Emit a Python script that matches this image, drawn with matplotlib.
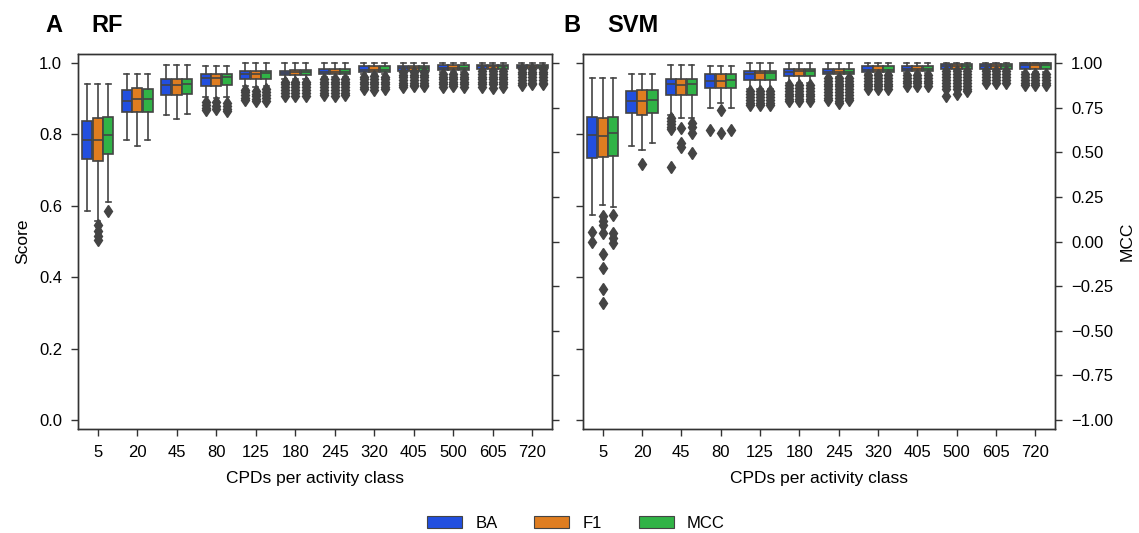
import matplotlib
matplotlib.use('Agg')
import matplotlib.pyplot as plt
import numpy as np
import seaborn as sns
from matplotlib.patches import Patch
from matplotlib.ticker import FormatStrFormatter, FuncFormatter

plt.rcParams['font.family'] = ['Liberation Sans', 'DejaVu Sans']

cpds = ['5', '20', '45', '80', '125', '180', '245', '320', '405', '500', '605', '720']
metrics = ['BA', 'F1', 'MCC']

# ---------------- RF ----------------
rf_med = {
    'BA':  [0.784, 0.894, 0.939, 0.957, 0.969, 0.972, 0.974, 0.980, 0.985, 0.987, 0.990, 0.992],
    'F1':  [0.783, 0.898, 0.939, 0.959, 0.969, 0.975, 0.974, 0.980, 0.985, 0.987, 0.990, 0.992],
    'MCC': [0.797, 0.898, 0.940, 0.960, 0.971, 0.975, 0.974, 0.980, 0.985, 0.987, 0.990, 0.992],
}
rf_q1 = {
    'BA':  [0.730, 0.864, 0.910, 0.936, 0.954, 0.965, 0.969, 0.974, 0.978, 0.980, 0.983, 0.986],
    'F1':  [0.725, 0.862, 0.910, 0.936, 0.954, 0.965, 0.969, 0.974, 0.978, 0.980, 0.983, 0.986],
    'MCC': [0.746, 0.864, 0.912, 0.938, 0.955, 0.965, 0.969, 0.974, 0.978, 0.980, 0.983, 0.986],
}
rf_q3 = {
    'BA':  [0.838, 0.923, 0.954, 0.968, 0.976, 0.978, 0.983, 0.992, 0.992, 0.994, 0.994, 0.995],
    'F1':  [0.845, 0.929, 0.955, 0.968, 0.976, 0.980, 0.983, 0.992, 0.992, 0.994, 0.994, 0.995],
    'MCC': [0.850, 0.928, 0.955, 0.968, 0.977, 0.980, 0.983, 0.992, 0.992, 0.994, 0.994, 0.995],
}
rf_lo = {
    'BA':  [0.585, 0.784, 0.854, 0.905, 0.935, 0.955, 0.962, 0.968, 0.977, 0.975, 0.981, 0.985],
    'F1':  [0.556, 0.768, 0.843, 0.903, 0.932, 0.955, 0.962, 0.968, 0.977, 0.975, 0.981, 0.985],
    'MCC': [0.612, 0.785, 0.858, 0.905, 0.935, 0.955, 0.962, 0.968, 0.977, 0.975, 0.981, 0.985],
}
rf_hi = {
    'BA':  [0.940, 0.969, 0.994, 0.990, 1.0, 1.0, 1.0, 1.0, 1.0, 1.0, 1.0, 1.0],
    'F1':  [0.940, 0.969, 0.994, 0.990, 1.0, 1.0, 1.0, 1.0, 1.0, 1.0, 1.0, 1.0],
    'MCC': [0.940, 0.969, 0.994, 0.990, 1.0, 1.0, 1.0, 1.0, 1.0, 1.0, 1.0, 1.0],
}
rf_fliers = {
    'BA': [[], [], [], [0.890, 0.882, 0.875, 0.868],
           [0.925, 0.918, 0.910, 0.902, 0.895],
           [0.948, 0.940, 0.932, 0.924, 0.916, 0.908],
           [0.955, 0.948, 0.940, 0.932, 0.924, 0.916, 0.910],
           [0.962, 0.955, 0.948, 0.940, 0.932, 0.926],
           [0.974, 0.967, 0.960, 0.952, 0.945, 0.938, 0.932],
           [0.970, 0.962, 0.955, 0.948, 0.940, 0.932],
           [0.977, 0.970, 0.962, 0.955, 0.947, 0.940, 0.932],
           [0.982, 0.975, 0.968, 0.960, 0.952, 0.945, 0.938]],
    'F1': [[0.545, 0.530, 0.515, 0.505], [], [], [0.890, 0.880, 0.872],
           [0.922, 0.914, 0.906, 0.898, 0.892],
           [0.948, 0.940, 0.932, 0.924, 0.916, 0.906],
           [0.955, 0.948, 0.940, 0.932, 0.924, 0.916, 0.908],
           [0.964, 0.956, 0.948, 0.940, 0.932, 0.924],
           [0.974, 0.967, 0.960, 0.952, 0.945, 0.938, 0.934],
           [0.970, 0.962, 0.955, 0.948, 0.940, 0.934],
           [0.977, 0.970, 0.962, 0.955, 0.947, 0.940, 0.930],
           [0.982, 0.975, 0.968, 0.960, 0.952, 0.945, 0.940]],
    'MCC': [[0.585], [], [], [0.888, 0.880, 0.872, 0.866],
            [0.926, 0.918, 0.910, 0.902, 0.894],
            [0.948, 0.940, 0.932, 0.924, 0.916, 0.908],
            [0.955, 0.948, 0.940, 0.932, 0.924, 0.916, 0.910],
            [0.962, 0.955, 0.948, 0.940, 0.932, 0.926],
            [0.974, 0.967, 0.960, 0.952, 0.945, 0.938, 0.934],
            [0.970, 0.962, 0.955, 0.948, 0.940, 0.932],
            [0.977, 0.970, 0.962, 0.955, 0.947, 0.940, 0.932],
            [0.982, 0.975, 0.968, 0.960, 0.952, 0.945, 0.940]],
}

# ---------------- SVM ----------------
svm_med = {
    'BA':  [0.798, 0.894, 0.940, 0.950, 0.969, 0.975, 0.974, 0.980, 0.983, 0.992, 0.990, 0.995],
    'F1':  [0.796, 0.892, 0.938, 0.950, 0.973, 0.978, 0.974, 0.980, 0.983, 0.992, 0.990, 0.995],
    'MCC': [0.805, 0.895, 0.941, 0.951, 0.973, 0.978, 0.974, 0.980, 0.983, 0.992, 0.990, 0.995],
}
svm_q1 = {
    'BA':  [0.733, 0.859, 0.909, 0.929, 0.952, 0.964, 0.969, 0.974, 0.978, 0.982, 0.982, 0.982],
    'F1':  [0.738, 0.853, 0.909, 0.929, 0.952, 0.964, 0.969, 0.974, 0.978, 0.982, 0.982, 0.982],
    'MCC': [0.739, 0.859, 0.909, 0.929, 0.952, 0.964, 0.969, 0.974, 0.978, 0.982, 0.982, 0.982],
}
svm_q3 = {
    'BA':  [0.850, 0.922, 0.954, 0.969, 0.978, 0.983, 0.983, 0.990, 0.992, 0.996, 0.996, 0.999],
    'F1':  [0.846, 0.924, 0.954, 0.969, 0.976, 0.983, 0.983, 0.990, 0.992, 0.996, 0.996, 0.999],
    'MCC': [0.850, 0.925, 0.954, 0.969, 0.978, 0.983, 0.983, 0.990, 0.992, 0.996, 0.996, 0.999],
}
svm_lo = {
    'BA':  [0.574, 0.768, 0.854, 0.873, 0.926, 0.943, 0.962, 0.970, 0.972, 0.980, 0.979, 0.975],
    'F1':  [0.602, 0.756, 0.847, 0.887, 0.926, 0.943, 0.962, 0.970, 0.972, 0.980, 0.979, 0.975],
    'MCC': [0.596, 0.777, 0.845, 0.873, 0.926, 0.943, 0.962, 0.970, 0.972, 0.980, 0.979, 0.975],
}
svm_hi = {
    'BA':  [0.959, 0.969, 0.994, 0.990, 1.0, 1.0, 1.0, 1.0, 1.0, 1.0, 1.0, 1.0],
    'F1':  [0.959, 0.969, 0.994, 0.990, 1.0, 1.0, 1.0, 1.0, 1.0, 1.0, 1.0, 1.0],
    'MCC': [0.959, 0.969, 0.994, 0.990, 1.0, 1.0, 1.0, 1.0, 1.0, 1.0, 1.0, 1.0],
}
svm_fliers = {
    'BA': [[0.527, 0.499], [], [0.846, 0.838, 0.830, 0.822, 0.814, 0.710], [0.811],
           [0.920, 0.912, 0.904, 0.896, 0.888, 0.882],
           [0.938, 0.930, 0.922, 0.914, 0.906, 0.898, 0.892],
           [0.957, 0.950, 0.942, 0.934, 0.926, 0.918, 0.910, 0.902, 0.896],
           [0.966, 0.958, 0.950, 0.942, 0.934, 0.926],
           [0.966, 0.958, 0.950, 0.943, 0.936],
           [0.976, 0.968, 0.960, 0.952, 0.944, 0.936, 0.928, 0.906],
           [0.976, 0.968, 0.960, 0.952, 0.945],
           [0.969, 0.960, 0.952, 0.945, 0.938]],
    'F1': [[0.572, 0.558, 0.546, 0.525, 0.465, 0.425, 0.367, 0.329], [0.716],
           [0.817, 0.775, 0.766], [0.868, 0.803],
           [0.920, 0.912, 0.904, 0.896, 0.888, 0.882],
           [0.938, 0.930, 0.922, 0.914, 0.906, 0.898, 0.892],
           [0.957, 0.950, 0.942, 0.934, 0.926, 0.918, 0.910, 0.902, 0.894, 0.887],
           [0.966, 0.958, 0.950, 0.942, 0.934, 0.926],
           [0.966, 0.958, 0.950, 0.943, 0.936],
           [0.976, 0.968, 0.960, 0.952, 0.944, 0.936, 0.928, 0.913],
           [0.976, 0.968, 0.960, 0.952, 0.945],
           [0.969, 0.960, 0.952, 0.945, 0.938]],
    'MCC': [[0.574, 0.525, 0.510, 0.497], [],
            [0.831, 0.820, 0.803, 0.749], [0.811],
            [0.920, 0.912, 0.904, 0.896, 0.888, 0.882],
            [0.938, 0.930, 0.922, 0.914, 0.906, 0.898, 0.892],
            [0.957, 0.950, 0.942, 0.934, 0.926, 0.918, 0.910, 0.902, 0.896],
            [0.966, 0.958, 0.950, 0.942, 0.934, 0.926],
            [0.966, 0.958, 0.950, 0.943, 0.936],
            [0.976, 0.968, 0.960, 0.952, 0.944, 0.936, 0.928, 0.920],
            [0.976, 0.968, 0.960, 0.952, 0.945],
            [0.969, 0.960, 0.952, 0.945, 0.938]],
}

palette = [sns.desaturate(c, 0.75) for c in sns.color_palette('bright', 3)]
gray = '#444444'
lw = 1.2

fig = plt.figure(figsize=(11.39, 5.33), dpi=100)
ax_rf = fig.add_axes([78 / 1139, 1 - 429 / 533, (552 - 78) / 1139, (429 - 54) / 533])
ax_svm = fig.add_axes([583 / 1139, 1 - 429 / 533, (1055 - 583) / 1139, (429 - 54) / 533])

minus_fmt = FuncFormatter(lambda v, p: f'{v:.2f}'.replace('-', '\u2212'))


def draw(ax, med, q1, q3, lo, hi, fl):
    width = 0.8 / 3
    for m_i, m in enumerate(metrics):
        stats = []
        for g in range(len(cpds)):
            stats.append(dict(med=med[m][g], q1=q1[m][g], q3=q3[m][g],
                              whislo=lo[m][g], whishi=hi[m][g], fliers=fl[m][g]))
        pos = [g + (m_i - 1) * width for g in range(len(cpds))]
        ax.bxp(stats, positions=pos, widths=width * 0.98, patch_artist=True,
               manage_ticks=False,
               boxprops=dict(facecolor=palette[m_i], edgecolor=gray, linewidth=lw),
               medianprops=dict(color=gray, linewidth=lw),
               whiskerprops=dict(color=gray, linewidth=lw),
               capprops=dict(color=gray, linewidth=lw),
               flierprops=dict(marker='d', markersize=6.5, markerfacecolor=gray,
                               markeredgecolor=gray, linestyle='none'))
    ax.set_xlim(-0.5, len(cpds) - 0.5)
    ax.set_xticks(range(len(cpds)))
    ax.set_xticklabels(cpds)
    ax.set_ylim(-0.025, 1.025)
    ax.set_yticks(np.arange(0, 1.01, 0.2))
    ax.yaxis.set_major_formatter(FormatStrFormatter('%.1f'))
    ax.set_xlabel('CPDs per activity class', fontsize=12.5, labelpad=8)
    ax.tick_params(labelsize=12, length=5, width=1, color='#333333', pad=6.5)
    for s in ax.spines.values():
        s.set_color('#333333')
        s.set_linewidth(1)
    tw = ax.twinx()
    tw.set_ylim(-1.05, 1.05)
    tw.set_yticks(np.arange(-1, 1.01, 0.25))
    tw.yaxis.set_major_formatter(minus_fmt)
    tw.tick_params(labelsize=12, length=5, width=1, color='#333333', pad=6.5)
    for s in tw.spines.values():
        s.set_color('#333333')
        s.set_linewidth(1)
    return tw


tw_rf = draw(ax_rf, rf_med, rf_q1, rf_q3, rf_lo, rf_hi, rf_fliers)
tw_svm = draw(ax_svm, svm_med, svm_q1, svm_q3, svm_lo, svm_hi, svm_fliers)

ax_rf.set_ylabel('Score', fontsize=12.5, labelpad=6)
tw_rf.set_yticklabels([])
ax_svm.set_yticklabels([])
tw_svm.set_ylabel('MCC', fontsize=12.5, labelpad=5)

fig.text(45 / 1139, 1 - 26 / 533, 'A', fontsize=17, fontweight='bold', va='center', ha='left')
fig.text(91 / 1139, 1 - 26 / 533, 'RF', fontsize=17, fontweight='bold', va='center', ha='left')
fig.text(563 / 1139, 1 - 26 / 533, 'B', fontsize=17, fontweight='bold', va='center', ha='left')
fig.text(607 / 1139, 1 - 26 / 533, 'SVM', fontsize=17, fontweight='bold', va='center', ha='left')

handles = [Patch(facecolor=palette[i], edgecolor=gray, linewidth=0.8, label=m)
           for i, m in enumerate(metrics)]
fig.legend(handles=handles, loc='center', bbox_to_anchor=(576 / 1139, 1 - 523 / 533),
           ncol=3, frameon=False, fontsize=12, handlelength=2.1, handleheight=0.75,
           handletextpad=0.8, columnspacing=2.2)

fig.savefig('out.png', dpi=100)
